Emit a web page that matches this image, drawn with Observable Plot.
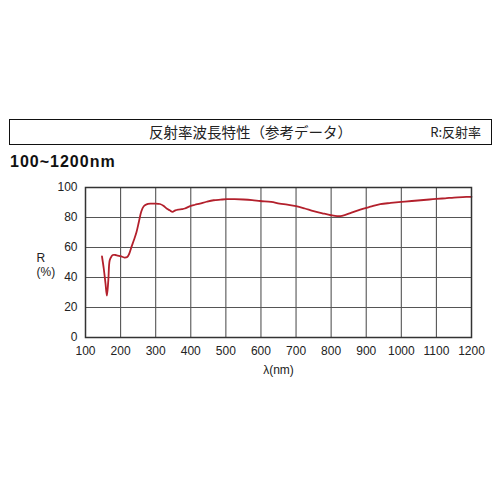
<!DOCTYPE html>
<html>
<head>
<meta charset="utf-8">
<script src="https://cdn.jsdelivr.net/npm/d3@7"></script>
<script src="https://cdn.jsdelivr.net/npm/@observablehq/plot@0.6"></script>
<style>
  body { margin: 0; background: #fff; }
  #wrap { position: relative; width: 500px; height: 500px; overflow: hidden; font-family: "Liberation Sans", Arial, sans-serif; }
  #titlebox { position: absolute; left: 9px; top: 119px; width: 481px; height: 24px; border: 1.5px solid #111; box-sizing: content-box; }
  #title { position: absolute; left: 0; width: 100%; top: 2px; text-align: center; font-family: "Noto Sans CJK JP", sans-serif; font-size: 14.5px; color: #222; line-height: 20px; }
  #rlabel { position: absolute; right: 10px; top: 2px; font-family: "Noto Sans CJK JP", sans-serif; font-size: 13px; color: #222; line-height: 20px; }
  #range { position: absolute; left: 10px; top: 153px; font-size: 16px; font-weight: bold; letter-spacing: 1px; color: #111; }
  #angle { position: absolute; right: 27px; top: 170px; font-family: "Noto Sans CJK JP", sans-serif; font-size: 11px; color: #222; }
  #chart { position: absolute; left: 0; top: 170px; }
</style>
</head>
<body>
<div id="wrap">
  <div id="titlebox"><div id="title">反射率波長特性（参考データ）</div><div id="rlabel">R:反射率</div></div>
  <div id="range">100~1200nm</div>
  <div id="angle">入射角度45°</div>
  <div id="chart"></div>
</div>
<script>
const wavelength = [147, 152, 157, 161, 165, 169, 174, 178, 185, 192, 200, 211, 219, 224, 231, 238, 245, 252, 259, 266, 274, 285, 298, 312, 322, 331, 340, 348, 356, 364, 375, 383, 398, 412, 426, 445, 465, 485, 503, 525, 550, 575, 598, 629, 653, 675, 700, 725, 750, 775, 800, 817, 831, 858, 883, 912, 940, 970, 1000, 1030, 1055, 1080, 1100, 1125, 1150, 1175, 1200];
const reflectance = [54, 46, 36, 28, 38, 51.5, 54, 55, 55, 54.6, 54.2, 53.3, 53.7, 55.5, 60.4, 65, 70, 77, 84, 87.5, 88.7, 89.2, 89.3, 89, 87.8, 86, 84.8, 83.8, 84.8, 85.3, 85.6, 86, 87.6, 88.5, 89.3, 90.5, 91.5, 91.9, 92.2, 92.2, 92, 91.6, 91, 90.4, 89.3, 88.6, 87.6, 86, 84.2, 82.8, 81.5, 80.9, 81.1, 83.2, 85.3, 87.2, 88.9, 89.7, 90.4, 91, 91.5, 92, 92.4, 92.8, 93.3, 93.6, 93.8];
const xTicks = [100, 200, 300, 400, 500, 600, 700, 800, 900, 1000, 1100, 1200];
const yTicks = [0, 20, 40, 60, 80, 100];

const data = wavelength.map((w, i) => ({w, r: reflectance[i]}));

const chart = Plot.plot({
  width: 500,
  height: 217,
  marginLeft: 85,
  marginRight: 29,
  marginTop: 17,
  marginBottom: 50,
  style: {fontFamily: "'Liberation Sans', Arial, sans-serif", fontSize: "12px", color: "#222", background: "#fff"},
  x: {domain: [100, 1200]},
  y: {domain: [0, 100]},
  marks: [
    Plot.ruleX(xTicks.slice(1, -1), {stroke: "#555", strokeWidth: 1.1}),
    Plot.ruleY(yTicks.slice(1, -1), {stroke: "#555", strokeWidth: 1.1}),
    Plot.axisX({ticks: xTicks, tickSize: 0, tickPadding: 9, tickFormat: d => String(d), label: null, fontSize: 12}),
    Plot.axisY({ticks: yTicks, tickSize: 0, tickPadding: 8, tickFormat: d => String(d), label: null, fontSize: 12}),
    Plot.line(data, {x: "w", y: "r", stroke: "#b3202c", strokeWidth: 1.8, curve: "catmull-rom"}),
    Plot.frame({stroke: "#333", strokeWidth: 1.5}),
    Plot.text(["R\n(%)"], {frameAnchor: "left", dx: -49, dy: 2, fontSize: 12, lineHeight: 1.15}),
    Plot.text(["λ(nm)"], {frameAnchor: "bottom", dy: 36, fontSize: 12})
  ]
});
document.getElementById("chart").appendChild(chart);
</script>
</body>
</html>
